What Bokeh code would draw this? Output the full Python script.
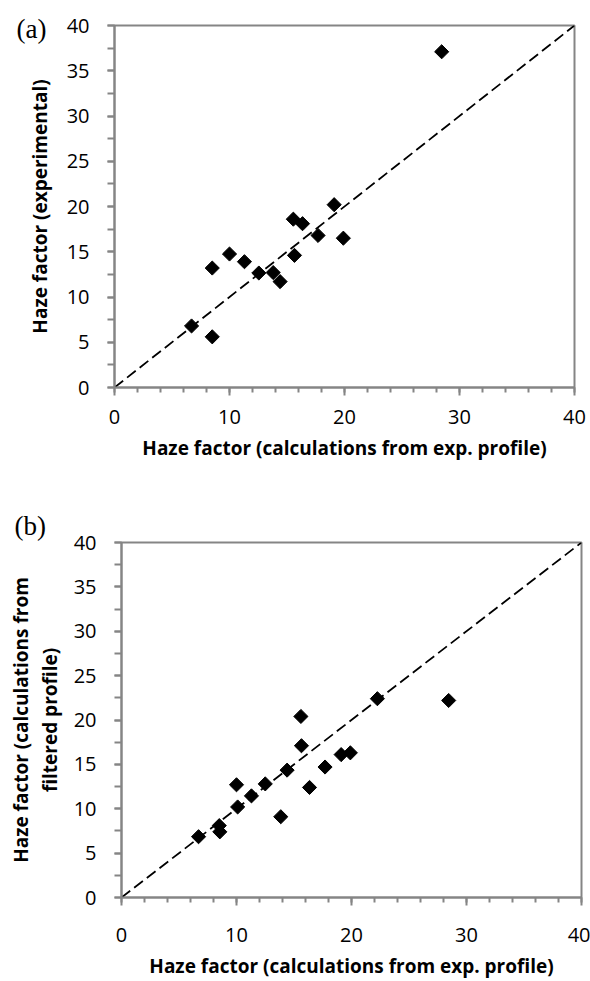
import numpy as np
from bokeh.plotting import figure
from bokeh.layouts import column, row
from bokeh.models import Range1d, FixedTicker, Title, ColumnDataSource
from bokeh.embed import file_html
from bokeh.resources import INLINE

# Panel (a): calculated (from exp. profile) vs experimental haze factor
a_calc_exp = [6.7, 8.5, 8.5, 10.0, 11.3, 12.55, 13.8, 14.4, 15.55, 16.35, 15.65, 17.7, 19.1, 19.9, 28.45]
a_experimental = [6.8, 5.6, 13.2, 14.75, 13.9, 12.65, 12.7, 11.7, 18.6, 18.1, 14.6, 16.8, 20.2, 16.5, 37.1]

# Panel (b): calculated (from exp. profile) vs calculated (from filtered profile)
b_calc_exp = [6.7, 8.5, 8.55, 10.0, 10.1, 11.3, 12.5, 13.85, 14.4, 15.6, 15.65, 16.35, 17.7, 19.1, 19.9, 22.25, 28.45]
b_calc_filtered = [6.85, 8.1, 7.4, 12.7, 10.2, 11.45, 12.8, 9.1, 14.35, 20.4, 17.1, 12.4, 14.7, 16.1, 16.3, 22.4, 22.2]

x_major = [0, 10, 20, 30, 40]
x_minor = list(range(0, 41, 2))
y_major = [0, 5, 10, 15, 20, 25, 30, 35, 40]
y_minor = [i * 2.5 for i in range(17)]
diag = [0, 40]

FONT = "Open Sans"
AXIS_GREY = "#858585"


def make_panel(xs, ys, ylabel, tag, width, height, borders, tag_offset, tag_standoff,
               ylabel_lh, x_std, x_title_std, y_title_std):
    top, bottom, left, right = borders
    p = figure(width=width, height=height, output_backend="svg", toolbar_location=None,
               x_range=Range1d(0, 40), y_range=Range1d(0, 40),
               min_border_top=top, min_border_bottom=bottom,
               min_border_left=left, min_border_right=right)
    p.title = Title(text=tag, align="left", offset=tag_offset, standoff=tag_standoff,
                    text_font="Liberation Serif", text_font_size="27px",
                    text_font_style="normal", text_color="black",
                    vertical_align="bottom", text_line_height=0.8)
    p.xgrid.visible = False
    p.ygrid.visible = False
    p.outline_line_color = AXIS_GREY
    p.outline_line_width = 2
    p.background_fill_color = "white"
    p.border_fill_color = "white"

    p.xaxis.ticker = FixedTicker(ticks=x_major, minor_ticks=x_minor)
    p.yaxis.ticker = FixedTicker(ticks=y_major, minor_ticks=y_minor)
    for ax in (p.xaxis[0], p.yaxis[0]):
        ax.axis_line_color = AXIS_GREY
        ax.axis_line_width = 2
        ax.major_tick_line_color = AXIS_GREY
        ax.minor_tick_line_color = AXIS_GREY
        ax.major_tick_line_width = 2
        ax.minor_tick_line_width = 2
        ax.major_tick_in = 0
        ax.minor_tick_in = 0
        ax.major_label_text_font = FONT
        ax.major_label_text_font_size = "20px"
        ax.major_label_text_color = "black"
        ax.axis_label_text_font = FONT
        ax.axis_label_text_font_style = "bold"
        ax.axis_label_text_font_size = "19px"
        ax.axis_label_text_color = "black"
    p.xaxis.major_tick_out = 8
    p.xaxis.minor_tick_out = 5
    p.yaxis.major_tick_out = 7
    p.yaxis.minor_tick_out = 7
    p.xaxis.major_label_standoff = x_std
    p.yaxis.major_label_standoff = 18
    p.xaxis.axis_label = "Haze factor (calculations from exp. profile)"
    p.yaxis.axis_label = ylabel
    p.xaxis.axis_label_standoff = x_title_std
    p.yaxis.axis_label_standoff = y_title_std
    p.yaxis.axis_label_text_line_height = ylabel_lh

    p.line(diag, diag, line_color="black", line_width=1.8, line_dash="11 5")
    src = ColumnDataSource(dict(x=xs, y=ys))
    p.scatter("x", "y", source=src, marker="square", size=10, angle=np.pi / 4,
              fill_color="black", line_color="black")
    return p


pa = make_panel(a_calc_exp, a_experimental, "Haze factor (experimental)", "(a)", 590, 490,
                (25, 103, 114, 16), -98, -36, 1.2, 14, 8, 11)
pb = make_panel(b_calc_exp, b_calc_filtered,
                "Haze factor (calculations from\nfiltered profile)", "(b)", 590, 491,
                (52, 78, 121, 9), -107, 4, 1.1, 22, 8, 8)

layout = column(row(pa), row(pb), spacing=0)
open("out.html", "w").write(file_html(layout, INLINE))
